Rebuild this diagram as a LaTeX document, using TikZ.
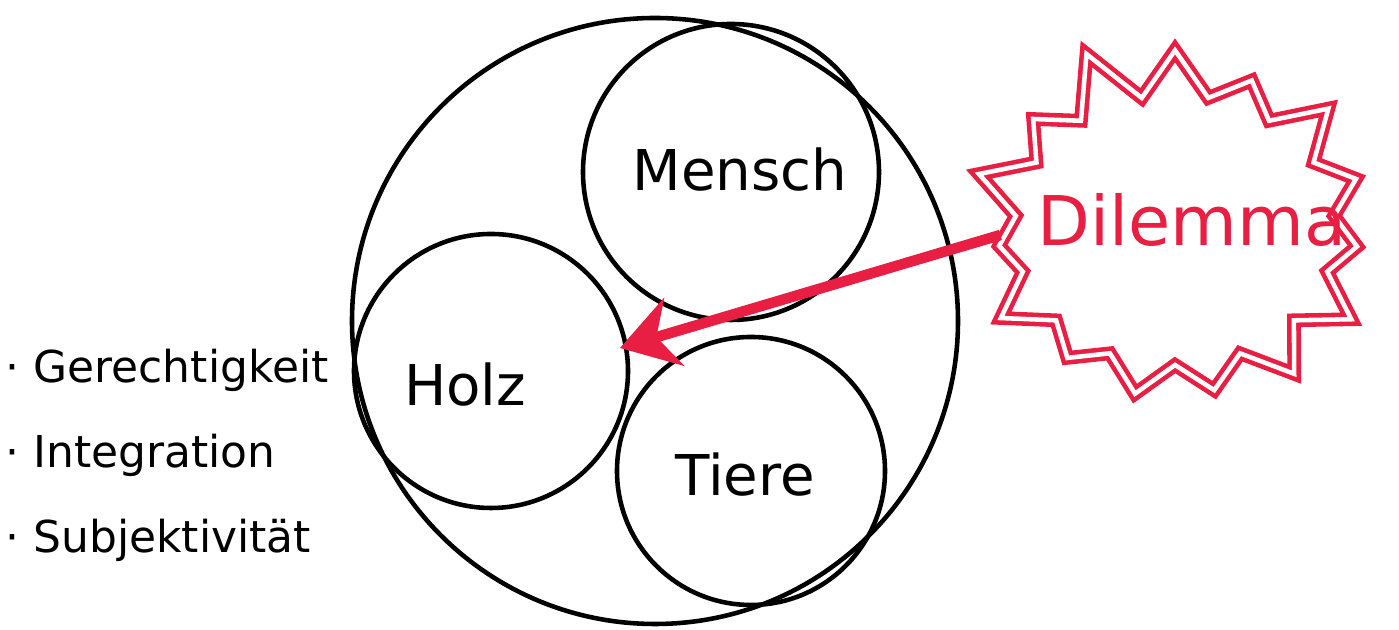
\documentclass[tikz,border=0pt]{standalone}
\usepackage{fontspec}
\setmainfont{DejaVu Sans}
\usepackage{tikz}
\usepackage{xcolor}
\usetikzlibrary{arrows.meta,positioning,shapes.symbols}

\definecolor{marker}{RGB}{232,30,66}

\begin{document}
\begin{tikzpicture}[
    ring/.style={draw, line width=1.3pt, circle, inner sep=0pt},
    word/.style={font=\fontsize{16}{19}\selectfont},
    point/.style={font=\fontsize{12.5}{15}\selectfont, anchor=west, inner sep=0pt}
  ]
  \useasboundingbox (0,0) rectangle (13.99,6.3);

  % outer circle and the three parts
  \node[ring, minimum size=6.06cm] (whole) at (6.55,3.09) {};
  \node[ring, minimum size=2.96cm] (mensch) at (7.31,4.58) {};
  \node[ring, minimum size=2.74cm] (holz) at (4.91,2.59) {};
  \node[ring, minimum size=2.68cm] (tiere) at (7.51,1.59) {};
  \node[word] at (7.4,4.6) {Mensch};
  \node[word] at (4.65,2.45) {Holz};
  \node[word] at (7.45,1.55) {Tiere};
  \coordinate (meet) at (6.2,2.82);

  % dilemma
  \node[starburst, starburst points=15, starburst point height=0.6cm,
        random starburst=11, draw=marker, line width=1.3pt,
        double=white, double distance=1.3pt, inner sep=0pt,
        minimum width=4.4cm, minimum height=3.9cm] (dilemma) at (11.75,4.0) {};
  \node[text=marker, font=\fontsize{19.5}{23}\selectfont] (dilword) at (11.92,4.1) {Dilemma};
  \coordinate (dilfoot) at ([xshift=-0.05cm, yshift=-0.05cm]dilemma.west);
  \draw[-{Stealth[length=16pt,width=20pt]}, marker, line width=3pt] (dilfoot) -- (meet);

  % list on the left
  \node[point] (gerecht) at (0.05,2.6) {· Gerechtigkeit};
  \node[point, below=0.85cm of gerecht.west, anchor=west] (integr) {· Integration};
  \node[point, below=0.85cm of integr.west, anchor=west] (subj) {· Subjektivität};
\end{tikzpicture}
\end{document}
